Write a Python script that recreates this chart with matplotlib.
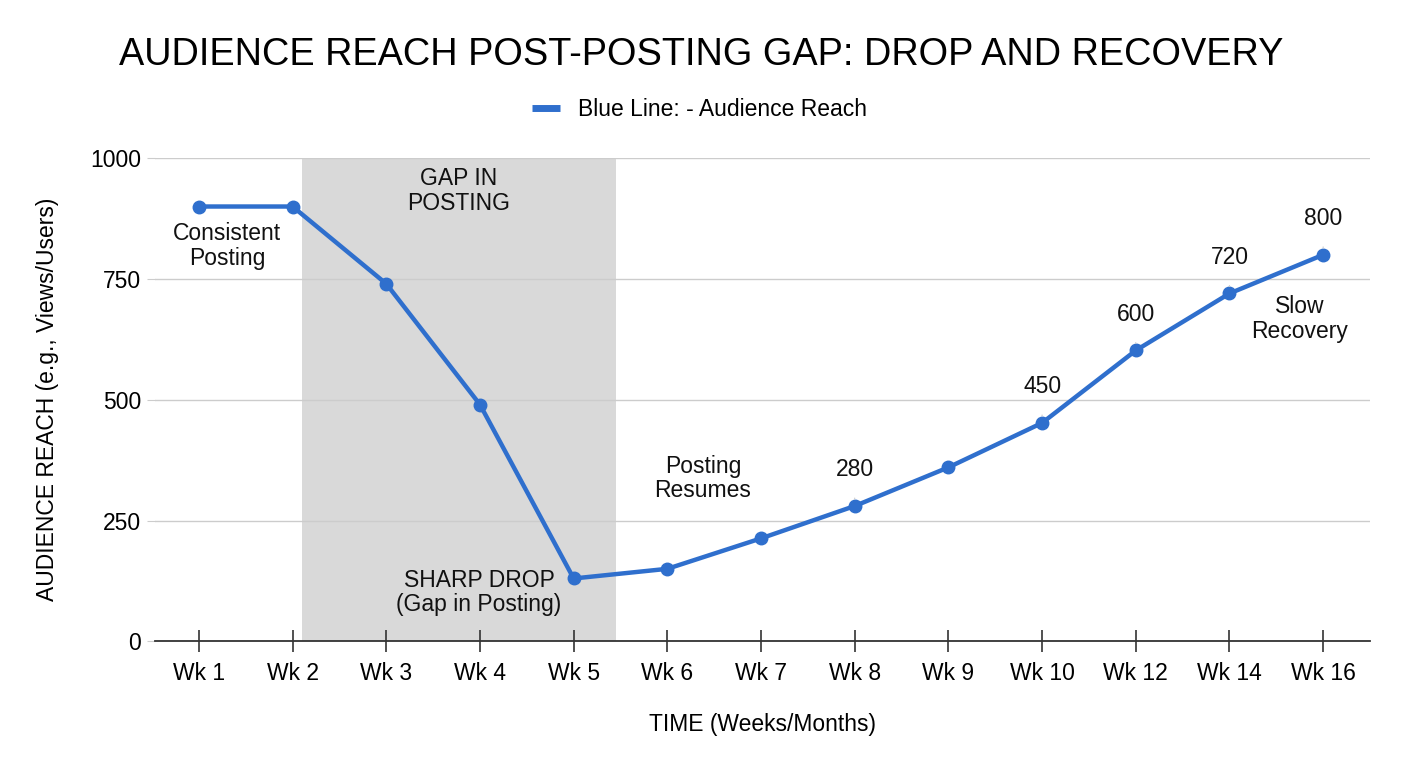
import matplotlib.pyplot as plt
from matplotlib.lines import Line2D

plt.rcParams['font.family'] = ['Liberation Sans', 'DejaVu Sans']

weeks = ["Wk 1", "Wk 2", "Wk 3", "Wk 4", "Wk 5", "Wk 6", "Wk 7",
         "Wk 8", "Wk 9", "Wk 10", "Wk 12", "Wk 14", "Wk 16"]
reach = [900, 900, 740, 490, 130, 150, 213, 280, 360, 452, 602, 720, 800]
labelled = ["Wk 8", "Wk 10", "Wk 12", "Wk 14", "Wk 16"]
label_text = ["280", "450", "600", "720", "800"]
gap_start, gap_end = 1.1, 4.45

blue = "#2f6fcd"
fs = 16.5

fig = plt.figure(figsize=(14.08, 7.68), dpi=100)
ax = fig.add_axes([0.110, 0.165, 0.863, 0.629])

x = list(range(len(weeks)))
ax.axvspan(gap_start, gap_end, color="#d9d9d9", zorder=0, lw=0)
ax.plot(x, reach, color=blue, lw=3.2, marker="o", ms=9, zorder=3)

for wk, txt in zip(labelled, label_text):
    i = weeks.index(wk)
    ax.annotate(txt, (i, reach[i]), xytext=(0, 26), textcoords="offset points",
                ha="center", va="center", fontsize=fs, color="#111111",
                arrowprops=dict(arrowstyle="-", color="#cccccc", lw=0.8,
                                shrinkA=10, shrinkB=5), zorder=4)

notes = [
    (0.3, 818, "Consistent\nPosting"),
    (2.77, 932, "GAP IN\nPOSTING"),
    (2.99, 101, "SHARP DROP\n(Gap in Posting)"),
    (5.38, 337, "Posting\nResumes"),
    (11.75, 667, "Slow\nRecovery"),
]
for nx, ny, txt in notes:
    ax.text(nx, ny, txt, ha="center", va="center", fontsize=fs,
            linespacing=1.1, color="#111111")

ax.set_xlim(-0.47, 12.5)
ax.set_ylim(0, 1000)
ax.set_xticks(x)
ax.set_xticklabels(weeks, fontsize=fs)
ax.set_yticks([0, 250, 500, 750, 1000])
ax.set_yticklabels(["0", "250", "500", "750", "1000"], fontsize=fs)
ax.grid(axis="y", color="#cccccc", lw=1)
ax.set_axisbelow(True)
for s in ["top", "right", "left"]:
    ax.spines[s].set_visible(False)
ax.spines["bottom"].set_color("#333333")
ax.spines["bottom"].set_linewidth(1.3)
ax.tick_params(axis="x", direction="inout", length=16, width=1.2, color="#333333",
               pad=7)
ax.tick_params(axis="y", length=6, color="#cccccc", pad=4)

ax.set_xlabel("TIME (Weeks/Months)", fontsize=fs, labelpad=20)
ax.set_ylabel("AUDIENCE REACH (e.g., Views/Users)", fontsize=fs, labelpad=22)

fig.suptitle("AUDIENCE REACH POST-POSTING GAP: DROP AND RECOVERY", fontsize=27.3,
             y=0.952, x=0.498)

handle = Line2D([], [], color=blue, lw=5, solid_capstyle="butt")
fig.legend([handle], ["Blue Line: - Audience Reach"], loc="center",
           bbox_to_anchor=(0.497, 0.857), frameon=False, fontsize=fs,
           handlelength=1.2, handletextpad=0.8)

fig.savefig("out.png", dpi=100)
